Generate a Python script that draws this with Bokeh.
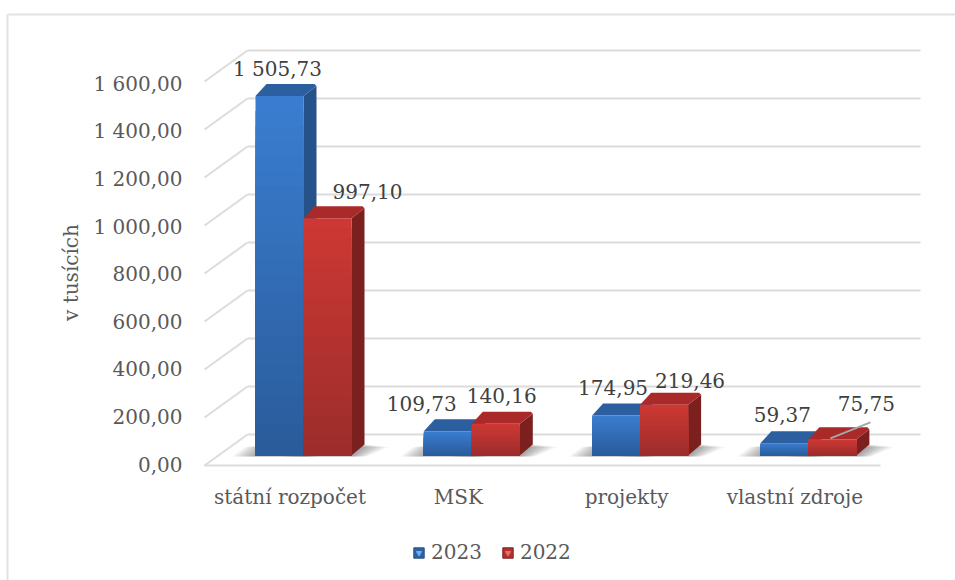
import math
from bokeh.embed import file_html
from bokeh.resources import INLINE
from bokeh.plotting import figure
from bokeh.core.properties import value
from bokeh.models import (FixedTicker, Label, Legend, LegendItem, LinearAxis, Range1d)

# ---- data -------------------------------------------------------------
categories = ["státní rozpočet", "MSK", "projekty", "vlastní zdroje"]
series_names = ["2023", "2022"]
values_2023 = [1505.73, 109.73, 174.95, 59.37]
values_2022 = [997.10, 140.16, 219.46, 75.75]
labels_2023 = ["1 505,73", "109,73", "174,95", "59,37"]
labels_2022 = ["997,10", "140,16", "219,46", "75,75"]
y_ticks = [0, 200, 400, 600, 800, 1000, 1200, 1400, 1600]
y_tick_labels = ["0,00", "200,00", "400,00", "600,00", "800,00",
                 "1 000,00", "1 200,00", "1 400,00", "1 600,00"]
y_title = "v tusících"

# ---- layout constants (pixels) ---------------------------------------
W, H = 955, 580
PY = 0.24          # px per value unit
PX = 168.3         # px per category step
X0 = 303           # px of first group's centre
Y0 = 457           # px of value 0 on the bar plane
BAR = 48           # bar width
DX, DY = 13, 12    # bar depth
FONT = "DejaVu Serif"
FS = "20px"
GRID = "#dcdcdc"
BLUE = dict(top=(58, 125, 208), bottom=(42, 92, 155), cap="#2c5f9f", side="#26528a")
RED = dict(top=(205, 56, 52), bottom=(156, 45, 43), cap="#a92a28", side="#7b201f")

def px(n):   # horizontal pixels → x units
    return n / PX
def py(n):   # vertical pixels → y units
    return n / PY

p = figure(width=W, height=H, output_backend="svg", toolbar_location=None,
           x_range=Range1d(-X0 / PX, (W - X0) / PX),
           y_range=Range1d((Y0 - H) / PY, Y0 / PY),
           min_border=0, x_axis_type=None, y_axis_type=None, margin=0)
p.grid.visible = False
p.outline_line_color = None
p.background_fill_color = "white"

# chart border (top and left only)
p.segment(x0=[px(7 - X0)] * 2, y0=[py(Y0 - 14), py(Y0 - 14)],
          x1=[px(W - X0), px(7 - X0)], y1=[py(Y0 - 14), py(Y0 - H)],
          line_color="#e2e2e2", line_width=2)

# walls and floor, from the value ticks
BACK = Y0 - 434     # px the back wall sits above the bar plane at value 0
WALL_L, WALL_R, FRONT_L, FRONT_R, SLANT = 247, 920, 204, 880, 31
tv = [t + py(BACK) for t in y_ticks]
p.segment(x0=[px(WALL_L - X0)] * len(tv), x1=[px(WALL_R - X0)] * len(tv), y0=tv, y1=tv,
          line_color=GRID, line_width=2)
p.segment(x0=[px(FRONT_L - X0)] * len(tv), x1=[px(WALL_L - X0)] * len(tv),
          y0=[t - py(SLANT) for t in tv], y1=tv, line_color=GRID, line_width=2)
fl = tv[0] - py(SLANT)
p.segment(x0=[px(FRONT_L - X0)], x1=[px(FRONT_R - X0)], y0=[fl], y1=[fl],
          line_color=GRID, line_width=2)

BASE = py(Y0 - 455)  # value at which the bar's front foot sits

def blend(a, b, t):
    return "#%02x%02x%02x" % tuple(round(a[k] + (b[k] - a[k]) * t) for k in range(3))

def draw_shadow(center):
    x0, x1 = center - px(BAR / 2), center + px(BAR / 2)
    for k in range(7):
        g = k * 3.5
        xs = [x0 - px(2 + g), x1 + px(2 + g * .6), x1 + px(DX + 3 + g), x0 + px(DX - 2 - g)]
        ys = [BASE - py(1), BASE - py(1), BASE + py(DY - 1 - k * .4), BASE + py(DY - 1 - k * .4)]
        p.patch(xs, ys, fill_color="#000000", fill_alpha=0.055, line_color=None)

def draw_bar(center, v, pal):
    x0, x1 = center - px(BAR / 2), center + px(BAR / 2)
    top = v
    # depth faces, with softly cut outer corners
    p.patch([x1, x1 + px(DX), x1 + px(DX), x1],
            [BASE, BASE + py(DY - 1), top + py(DY - 2), top], fill_color=pal["side"], line_color=None)
    p.patch([x0, x0 + px(DX - 2), x1 + px(DX - 2), x1 + px(DX), x1],
            [top, top + py(DY), top + py(DY), top + py(DY - 2), top],
            fill_color=pal["cap"], line_color=None)
    # front with a vertical gradient (painted top to bottom, each band reaches the foot)
    n = 24
    h = top - BASE
    tops = [top - h * i / n for i in range(n)]
    cols = [blend(pal["top"], pal["bottom"], i / (n - 1)) for i in range(n)]
    p.quad(left=[x0] * n, right=[x1] * n, bottom=[BASE] * n, top=tops, fill_color=cols, line_color=None)

for i in range(len(categories)):
    draw_shadow(i - px(BAR / 2))
    draw_shadow(i + px(BAR / 2))
for i, (a, b) in enumerate(zip(values_2023, values_2022)):
    draw_bar(i - px(BAR / 2), a, BLUE)
    draw_bar(i + px(BAR / 2), b, RED)

# data labels: offsets from each bar's front-top centre
off_2023 = [(-2, 27), (-26, 28), (-3, 28), (-2, 29)]
off_2022 = [(40, 27), (6, 28), (26, 24), (34, 36)]
xs, ys, ts = [], [], []
for i in range(len(categories)):
    for sgn, vals, labs, off in ((-1, values_2023, labels_2023, off_2023),
                                 (1, values_2022, labels_2022, off_2022)):
        xs.append(i + sgn * px(BAR / 2) + px(off[i][0]))
        ys.append(vals[i] + py(off[i][1]))
        ts.append(labs[i])
p.text(x=xs, y=ys, text=ts, text_font=value(FONT), text_font_size=FS,
       text_color="#404040", text_align="center", text_baseline="middle")

# leader line of the last data label
p.segment(x0=[3 + px(BAR / 2 - 2)], y0=[values_2022[3] + py(1)],
          x1=[3 + px(BAR / 2 + 38)], y1=[values_2022[3] + py(17)],
          line_color="#a6a6a6", line_width=2)

# value axis, placed inside the frame on its own range
AX_PY, AX_Y0 = 0.238, 464
p.extra_y_ranges["axis"] = Range1d((AX_Y0 - H) / AX_PY, AX_Y0 / AX_PY)
yax = LinearAxis(y_range_name="axis", ticker=FixedTicker(ticks=y_ticks),
                 major_label_overrides=dict(zip(y_ticks, y_tick_labels)),
                 axis_line_color=None, major_tick_line_color=None, minor_tick_line_color=None,
                 major_tick_out=0, major_tick_in=0, major_label_standoff=8,
                 major_label_text_font=FONT, major_label_text_font_size=FS,
                 major_label_text_color="#595959", fixed_location=px(190 - X0))
p.add_layout(yax, "left")

# category axis
p.extra_x_ranges["axis"] = Range1d(p.x_range.start + px(13.5), p.x_range.end + px(13.5))
xax = LinearAxis(x_range_name="axis", ticker=FixedTicker(ticks=list(range(len(categories)))),
                 major_label_overrides=dict(enumerate(categories)),
                 axis_line_color=None, major_tick_line_color=None, minor_tick_line_color=None,
                 major_tick_out=0, major_tick_in=0, major_label_standoff=0,
                 major_label_text_font=FONT, major_label_text_font_size=FS,
                 major_label_text_color="#595959", fixed_location=py(Y0 - 484))
p.add_layout(xax, "below")

# axis title
p.add_layout(Label(x=px(70 - X0), y=py(Y0 - 272), text=y_title, angle=math.pi / 2,
                   text_font=FONT, text_font_size=FS, text_color="#595959",
                   text_align="center", text_baseline="middle"))

# legend: each swatch is a box plus a lighter wedge
nan = [math.nan]
sw_b = p.quad(left=nan, right=nan, top=nan, bottom=nan, fill_color="#2e62a6", line_color="#24507f")
sw_r = p.quad(left=nan, right=nan, top=nan, bottom=nan, fill_color="#b5302d", line_color="#7b201f")
tri_b = p.scatter(x=nan, y=nan, marker="inverted_triangle", fill_color="#6cb0f0", line_color="#6cb0f0")
tri_r = p.scatter(x=nan, y=nan, marker="inverted_triangle", fill_color="#e8706a", line_color="#e8706a")
leg = Legend(items=[LegendItem(label=series_names[0], renderers=[sw_b, tri_b]),
                    LegendItem(label=series_names[1], renderers=[sw_r, tri_r])],
             orientation="horizontal", location=(412, 16), border_line_color=None,
             background_fill_alpha=0, glyph_width=13, glyph_height=13, spacing=19,
             label_standoff=6, padding=6, margin=0,
             label_text_font=FONT, label_text_font_size=FS, label_text_color="#595959")
p.add_layout(leg, "center")

open("out.html", "w").write(file_html(p, INLINE))
